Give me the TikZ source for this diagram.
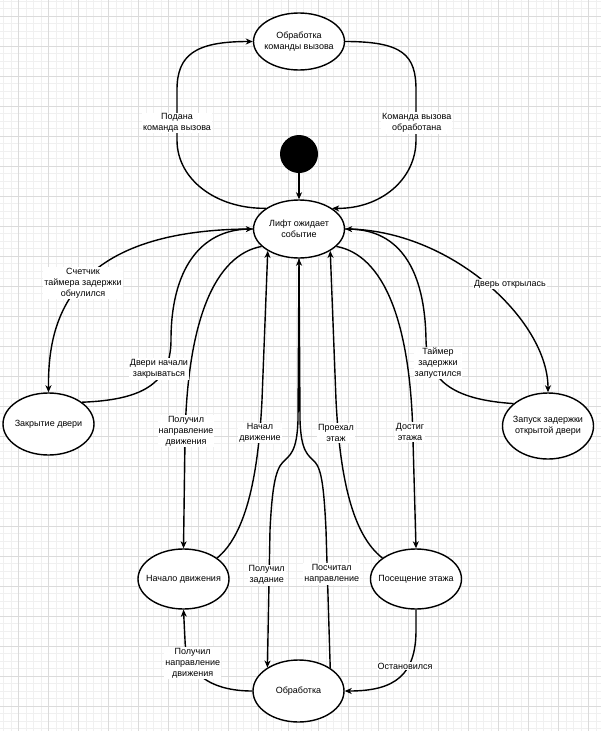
\documentclass[tikz,border=0pt]{standalone}
\usepackage{fontspec}
\setmainfont{Liberation Sans}
\usetikzlibrary{arrows.meta,shapes.geometric}
\begin{document}
\begin{tikzpicture}[x=1pt,y=-1pt,
  every node/.style={font=\fontsize{9}{11}\selectfont},
  st/.style={ellipse,draw,line width=1.4pt,fill=white,minimum width=91pt,inner sep=0pt},
  lbl/.style={align=center,inner sep=0pt},
  elbl/.style={align=center,fill=white,inner sep=1pt},
  conn/.style={line width=1.4pt,-{Stealth[length=7pt,width=6pt,inset=2pt]}},
  gmin/.style={draw=black!6,line width=0.6pt},
  gmaj/.style={draw=black!14,line width=0.8pt}]
\useasboundingbox (0,0) rectangle (601,731);
% grid
\foreach \i in {0,...,79} {\draw[gmin] ({3.3+7.5*\i},0) -- ({3.3+7.5*\i},731);}
\foreach \i in {0,...,97} {\draw[gmin] (0,{1+7.5*\i}) -- (601,{1+7.5*\i});}
\foreach \i in {0,...,19} {\draw[gmaj] ({18.3+30*\i},0) -- ({18.3+30*\i},731);}
\foreach \i in {0,...,23} {\draw[gmaj] (0,{16+30*\i}) -- (601,{16+30*\i});}

% states
\node[st,minimum height=57pt,label={[lbl]center:Обработка\\команды вызова}] (cmd) at (299,41.5) {};
\node[circle,fill=black,minimum size=38pt,inner sep=0pt] (init) at (299,154) {};
\node[st,minimum height=58pt,label={[lbl]center:Лифт ожидает\\событие}] (lift) at (299,229) {};
\node[st,minimum height=62pt,label={[lbl]center:Закрытие двери}] (door) at (48.5,424) {};
\node[st,minimum height=66pt,label={[lbl]center:Запуск задержки\\открытой двери}] (delay) at (548,426) {};
\node[st,minimum height=60pt,label={[lbl]center:Начало движения}] (nach) at (183.5,579) {};
\node[st,minimum height=60pt,label={[lbl]center:Посещение этажа}] (pos) at (416,579) {};
\node[st,minimum height=62pt,label={[lbl]center:Обработка}] (obr) at (298.5,691) {};

% connectors
\draw[conn] (lift.148) .. controls (217,209) and (177,180) .. (177,140) -- (177,90) .. controls (177,55) and (195,41.5) .. (cmd.west);
\draw[conn] (cmd.east) .. controls (403,41.5) and (416,55) .. (416,90) -- (416,140) .. controls (416,180) and (380,209) .. (lift.32);
\draw[conn] (init) -- (lift.north);
\draw[conn] (lift.west) .. controls (65,229) and (48,324) .. (door.north);
\draw[conn] (door.33) .. controls (140,400) and (171,385) .. (171,340) .. controls (171,270) and (200,230) .. (lift.west);
\draw[conn] (lift.east) .. controls (450,229) and (548,320) .. (delay.north);
\draw[conn] (delay.147) .. controls (460,400) and (427,385) .. (426,340) .. controls (425,270) and (400,230) .. (lift.east);
\draw[conn] (lift.205) .. controls (215,255) and (187,320) .. (185,440) -- (nach.north);
\draw[conn] (nach.32) .. controls (245,535) and (258,480) .. (262,400) -- (lift.215);
\draw[conn] (pos.148) .. controls (353,535) and (340,480) .. (336,400) -- (lift.325);
\draw[conn] (lift.335) .. controls (383,255) and (411,320) .. (413,440) -- (pos.north);
\draw[conn] (lift.south) -- (298,420) .. controls (297,452) and (290,455) .. (283,462) .. controls (275,470) and (272,490) .. (270,530) -- (obr.143);
\draw[conn] (obr.36) -- (326,530) .. controls (324,490) and (322,470) .. (315,462) .. controls (308,455) and (301,452) .. (300,420) -- (lift.south);
\draw[conn] (obr.west) .. controls (220,691) and (186,680) .. (185,640) -- (nach.south);
\draw[conn] (pos.south) -- (416,630) .. controls (416,675) and (395,691) .. (obr.east);

% labels
\node[elbl] (l1) at (177,123) {Подана\\команда вызова};
\node[elbl] (l2) at (416.7,123) {Команда вызова\\обработана};
\node[elbl] (l3) at (83,283) {Счетчик\\таймера задержки\\обнулился};
\node[elbl] (l4) at (159,369) {Двери начали\\закрываться};
\node[elbl] (l5) at (186,431) {Получил\\направление\\движения};
\node[elbl] (l6) at (260,433) {Начал\\движение};
\node[elbl] (l7) at (336,433) {Проехал\\этаж};
\node[elbl] (l8) at (410,432) {Достиг\\этажа};
\node[elbl] (l9) at (510,284) {Дверь открылась};
\node[elbl] (l10) at (438,363) {Таймер\\задержки\\запустился};
\node[elbl] (l11) at (266.7,575) {Получил\\задание};
\node[elbl] (l12) at (331.7,574) {Посчитал\\направление};
\node[elbl] (l13) at (192.7,663) {Получил\\направление\\движения};
\node[elbl] (l14) at (405,666) {Остановился};
\end{tikzpicture}
\end{document}
